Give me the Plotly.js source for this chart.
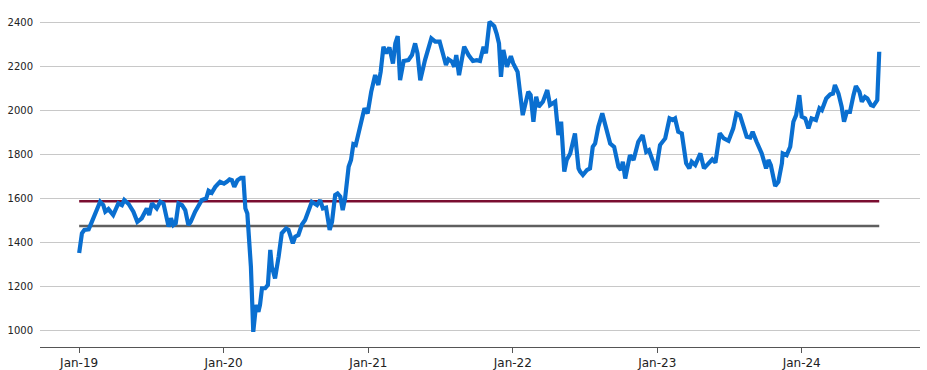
<!DOCTYPE html>
<html>
<head>
<meta charset="utf-8">
<script src="https://cdn.plot.ly/plotly-3.0.1.min.js"></script>
<style>html,body{margin:0;padding:0;background:#fff}#chart{width:927px;height:370px}</style>
</head>
<body>
<div id="chart"></div>
<script>
const dates = [
"2019-01-01","2019-01-08","2019-01-14","2019-01-25","2019-02-02","2019-02-15","2019-02-23","2019-03-03","2019-03-08","2019-03-16",
"2019-03-28","2019-04-10","2019-04-19","2019-04-25","2019-05-06","2019-05-18","2019-05-28","2019-06-08","2019-06-21","2019-06-27",
"2019-07-04","2019-07-16","2019-07-25","2019-08-02","2019-08-11","2019-08-15","2019-08-21","2019-08-27","2019-09-02","2019-09-09",
"2019-09-18","2019-09-26","2019-10-04","2019-10-10","2019-10-21","2019-11-01","2019-11-07","2019-11-18","2019-11-24","2019-12-02",
"2019-12-11","2019-12-23","2020-01-02","2020-01-09","2020-01-16","2020-01-22","2020-01-28","2020-02-05","2020-02-14","2020-02-20",
"2020-02-25","2020-03-01","2020-03-10","2020-03-16","2020-03-23","2020-03-29","2020-04-02","2020-04-07","2020-04-15","2020-04-22",
"2020-04-28","2020-05-02","2020-05-10","2020-05-19","2020-05-27","2020-06-07","2020-06-13","2020-06-24","2020-06-30","2020-07-08",
"2020-07-17","2020-07-25","2020-08-11","2020-08-24","2020-09-01","2020-09-08","2020-09-16","2020-09-25","2020-10-01","2020-10-09",
"2020-10-15","2020-10-22","2020-10-28","2020-11-03","2020-11-12","2020-11-18","2020-11-24","2020-11-30","2020-12-11","2020-12-22",
"2020-12-30","2021-01-08","2021-01-18","2021-01-26","2021-02-01","2021-02-08","2021-02-15","2021-02-23","2021-03-04","2021-03-10",
"2021-03-16","2021-03-22","2021-03-31","2021-04-12","2021-04-21","2021-04-29","2021-05-05","2021-05-12","2021-05-24","2021-06-09",
"2021-06-19","2021-06-30","2021-07-08","2021-07-16","2021-07-22","2021-07-31","2021-08-06","2021-08-11","2021-08-18","2021-08-31",
"2021-09-11","2021-09-22","2021-10-02","2021-10-10","2021-10-19","2021-10-25","2021-11-03","2021-11-15","2021-11-21","2021-11-27",
"2021-12-02","2021-12-08","2021-12-17","2021-12-27","2022-01-02","2022-01-13","2022-01-26","2022-02-09","2022-02-15","2022-02-22",
"2022-03-01","2022-03-07","2022-03-18","2022-03-29","2022-04-05","2022-04-18","2022-04-26","2022-05-03","2022-05-11","2022-05-17",
"2022-05-26","2022-06-07","2022-06-16","2022-06-20","2022-06-27","2022-07-07","2022-07-15","2022-07-22","2022-07-28","2022-08-05",
"2022-08-15","2022-08-22","2022-09-04","2022-09-14","2022-09-25","2022-10-01","2022-10-06","2022-10-12","2022-10-24","2022-11-02",
"2022-11-14","2022-11-25","2022-12-04","2022-12-11","2022-12-21","2022-12-29","2023-01-08","2023-01-21","2023-02-01","2023-02-09",
"2023-02-15","2023-02-23","2023-03-04","2023-03-15","2023-03-23","2023-03-29","2023-04-07","2023-04-20","2023-04-29","2023-05-11",
"2023-05-20","2023-05-28","2023-06-08","2023-06-18","2023-06-30","2023-07-12","2023-07-20","2023-07-29","2023-08-05","2023-08-15",
"2023-08-24","2023-08-30","2023-09-09","2023-09-22","2023-10-03","2023-10-09","2023-10-15","2023-10-26","2023-11-03","2023-11-12",
"2023-11-14","2023-11-24","2023-12-03","2023-12-11","2023-12-18","2023-12-26","2024-01-01","2024-01-10","2024-01-18","2024-01-26",
"2024-02-06","2024-02-15","2024-02-21","2024-03-03","2024-03-13","2024-03-20","2024-03-25","2024-04-03","2024-04-11","2024-04-17",
"2024-04-24","2024-05-02","2024-05-11","2024-05-17","2024-05-26","2024-06-01","2024-06-09","2024-06-15","2024-06-24","2024-06-30",
"2024-07-10","2024-07-15"
];
const values = [
1350,1440,1455,1458,1492,1545,1583,1568,1538,1550,
1523,1576,1568,1591,1573,1538,1492,1508,1553,1523,
1576,1553,1583,1576,1492,1470,1508,1477,1485,1576,
1568,1545,1477,1492,1538,1576,1591,1598,1633,1624,
1651,1674,1666,1674,1685,1681,1651,1681,1692,1692,
1553,1530,1288,992,1114,1083,1114,1190,1190,1205,
1364,1288,1235,1333,1440,1462,1455,1394,1424,1432,
1480,1500,1583,1568,1591,1553,1557,1455,1492,1614,
1621,1606,1545,1598,1742,1773,1845,1841,1924,2008,
1985,2083,2159,2114,2174,2288,2258,2285,2212,2303,
2336,2136,2223,2227,2250,2303,2258,2136,2227,2326,
2311,2311,2258,2205,2231,2220,2197,2250,2159,2288,
2250,2223,2227,2223,2288,2258,2401,2381,2348,2303,
2151,2273,2197,2245,2212,2174,1977,2083,2068,1947,
2061,2015,2038,2091,2023,2038,1886,1947,1720,1773,
1803,1894,1735,1720,1705,1727,1735,1833,1848,1924,
1985,1939,1848,1833,1742,1727,1765,1689,1795,1773,
1856,1886,1810,1818,1773,1727,1841,1871,1962,1955,
1962,1901,1894,1758,1735,1765,1750,1803,1735,1758,
1776,1761,1894,1871,1860,1917,1985,1977,1939,1879,
1875,1901,1856,1803,1735,1773,1750,1655,1674,1758,
1803,1795,1833,1947,1977,2068,1970,1962,1917,1962,
1955,2008,2000,2053,2071,2075,2114,2075,2015,1947,
1992,1992,2068,2109,2083,2038,2060,2053,2023,2019,
2045,2265
];
const levelDates = ["2019-01-01","2024-07-15"];
const redLevel = [1586,1586];
const grayLevel = [1473,1473];
const yTicks = [1000,1200,1400,1600,1800,2000,2200,2400];

const traces = [
  {x: levelDates, y: grayLevel, mode: 'lines', line: {color: '#5f5f5f', width: 2.5}, hoverinfo: 'skip'},
  {x: levelDates, y: redLevel, mode: 'lines', line: {color: '#7a0d30', width: 2.5}, hoverinfo: 'skip'},
  {x: dates, y: values, mode: 'lines', line: {color: '#0a6fd0', width: 4.2, shape: 'linear'}}
];

const layout = {
  width: 927, height: 370,
  margin: {l: 40, r: 7, t: 8, b: 23},
  paper_bgcolor: '#ffffff', plot_bgcolor: '#ffffff',
  showlegend: false,
  font: {family: 'DejaVu Sans, sans-serif', size: 11, color: '#222222'},
  xaxis: {
    type: 'date',
    range: ['2018-09-24', '2024-10-26'],
    tick0: '2019-01-01', dtick: 'M12', tickformat: '%b-%y',
    showgrid: false, zeroline: false,
    showline: true, linecolor: '#555555', linewidth: 1,
    ticks: 'outside', ticklen: 5, tickcolor: '#555555', tickwidth: 1,
    tickfont: {family: 'DejaVu Sans, sans-serif', size: 12, color: '#222222'}
  },
  yaxis: {
    range: [923, 2464],
    tickvals: yTicks, ticktext: yTicks.map(String),
    showgrid: true, gridcolor: '#c8c8c8', gridwidth: 1,
    zeroline: false, showline: false, ticks: '',
    ticklabelstandoff: 6,
    tickfont: {family: 'DejaVu Sans, sans-serif', size: 10, color: '#222222'}
  }
};

Plotly.newPlot('chart', traces, layout, {displayModeBar: false, staticPlot: true});
</script>
</body>
</html>
